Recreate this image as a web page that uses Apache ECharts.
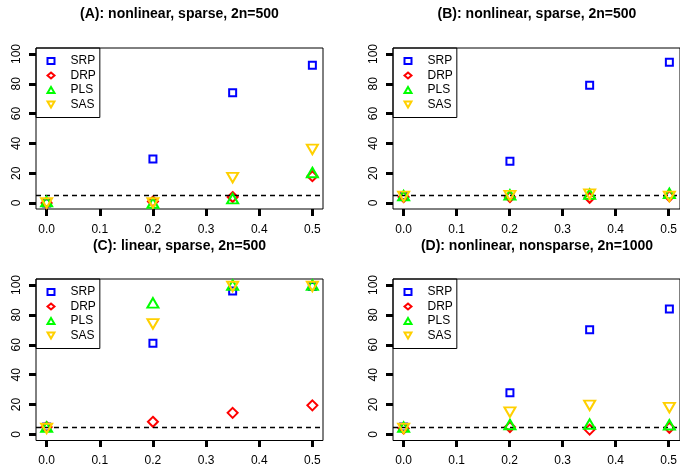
<!DOCTYPE html>
<html>
<head>
<meta charset="utf-8">
<script src="https://cdn.jsdelivr.net/npm/echarts@6/dist/echarts.min.js"></script>
<style>
html,body{margin:0;padding:0;background:#fff;}
#chart{width:680px;height:467px;}
</style>
</head>
<body>
<div id="chart"></div>
<script>
// ---- data ----
const xValues = [0, 0.2, 0.35, 0.5];
const xTickMin = 0, xTickMax = 0.5, xTickStep = 0.1;
const yTickMin = 0, yTickMax = 100, yTickStep = 20;
const methods = ['SRP', 'DRP', 'PLS', 'SAS'];
const panelTitles = [
  '(A): nonlinear, sparse, 2n=500',
  '(B): nonlinear, sparse, 2n=500',
  '(C): linear, sparse, 2n=500',
  '(D): nonlinear, nonsparse, 2n=1000'
];
const refLevel = 5;

const panelA_SRP = [0, 29.5, 74, 92.5];
const panelA_DRP = [0, 1, 4, 18];
const panelA_PLS = [1, 0, 3, 20.5];
const panelA_SAS = [0, 0, 17, 36];

const panelB_SRP = [5, 28, 79, 94.5];
const panelB_DRP = [4, 4, 3.5, 4.5];
const panelB_PLS = [5, 5.5, 6, 6.5];
const panelB_SAS = [4.5, 5, 6, 4.5];

const panelC_SRP = [5, 61, 96, 99];
const panelC_DRP = [5, 8.5, 14.5, 19.5];
const panelC_PLS = [5, 88, 100, 100];
const panelC_SAS = [4, 74, 99, 99];

const panelD_SRP = [5, 28, 70, 84];
const panelD_DRP = [4, 5, 3.3, 4.5];
const panelD_PLS = [5, 6.7, 7, 6.5];
const panelD_SAS = [4, 15, 19.5, 18];

const panels = [
  [panelA_SRP, panelA_DRP, panelA_PLS, panelA_SAS],
  [panelB_SRP, panelB_DRP, panelB_PLS, panelB_SAS],
  [panelC_SRP, panelC_DRP, panelC_PLS, panelC_SAS],
  [panelD_SRP, panelD_DRP, panelD_PLS, panelD_SAS]
];

// ---- styles ----
const FONT = 'Liberation Sans, Arial, Helvetica, sans-serif';
const styles = {
  SRP: {symbol: 'rect', size: 7, color: '#0000FF'},
  DRP: {symbol: 'diamond', size: 10, color: '#FF0000'},
  PLS: {symbol: 'triangle', size: [11, 9.5], color: '#00FF00'},
  SAS: {symbol: 'path://M0,0L10,0L5,8.66Z', size: [11, 9.5], color: '#FFD000'}
};
// R-style 4% padding around the data range
const xPad = 0.04 * (xTickMax - xTickMin);
const yPad = 0.04 * (yTickMax - yTickMin);
const xMin = xTickMin - xPad, xMax = xTickMax + xPad;
const yMin = yTickMin - yPad, yMax = yTickMax + yPad;

const boxes = [
  {left: 36, top: 48, width: 287, height: 161},
  {left: 393, top: 48, width: 288, height: 161},
  {left: 36, top: 279, width: 287, height: 161.5},
  {left: 393, top: 279, width: 288, height: 161.5}
];
const titleCenters = [[179.5, 7], [537, 7], [179.5, 239], [537, 239]];

const tickStyle = () => ({show: true, inside: false, length: 7, lineStyle: {color: '#000000', width: 3}});
const hiddenLine = () => ({show: true, onZero: false, lineStyle: {color: 'rgba(0,0,0,0)'}});

const grids = [], xAxes = [], yAxes = [];
boxes.forEach((b, p) => {
  // data grid (the box)
  grids.push(Object.assign({show: true, borderColor: '#000', borderWidth: 1, backgroundColor: 'transparent'}, b));
  xAxes.push({type: 'value', gridIndex: 3 * p, min: xMin, max: xMax, show: false});
  yAxes.push({type: 'value', gridIndex: 3 * p, min: yMin, max: yMax, show: false});
  // x tick axis spanning exactly the tick range
  const xs = b.width / (xMax - xMin);
  grids.push({show: false, left: b.left + (xTickMin - xMin) * xs, width: (xTickMax - xTickMin) * xs, top: b.top, height: b.height});
  xAxes.push({
    type: 'value', gridIndex: 3 * p + 1, min: xTickMin, max: xTickMax, interval: xTickStep,
    position: 'bottom', splitLine: {show: false}, axisLine: hiddenLine(), axisTick: tickStyle(),
    axisLabel: {show: true, margin: 15, fontSize: 12, color: '#000', fontFamily: FONT,
      formatter: v => v.toFixed(1), showMinLabel: true, showMaxLabel: true, hideOverlap: false}
  });
  yAxes.push({type: 'value', gridIndex: 3 * p + 1, min: 0, max: 1, show: false});
  // y tick axis spanning exactly the tick range
  const ys = b.height / (yMax - yMin);
  grids.push({show: false, left: b.left, width: b.width, top: b.top + (yMax - yTickMax) * ys, height: (yTickMax - yTickMin) * ys});
  xAxes.push({type: 'value', gridIndex: 3 * p + 2, min: 0, max: 1, show: false});
  yAxes.push({
    type: 'value', gridIndex: 3 * p + 2, min: yTickMin, max: yTickMax, interval: yTickStep,
    position: 'left', splitLine: {show: false}, axisLine: hiddenLine(), axisTick: tickStyle(),
    axisLabel: {show: true, rotate: 90, margin: 13, fontSize: 12, color: '#000', fontFamily: FONT,
      formatter: v => String(v), showMinLabel: true, showMaxLabel: true, hideOverlap: false}
  });
});

const option = {
  animation: false,
  backgroundColor: '#fff',
  textStyle: {fontFamily: FONT},
  title: panelTitles.map((t, i) => ({
    text: t, left: titleCenters[i][0], top: titleCenters[i][1], textAlign: 'center', padding: 0,
    textStyle: {fontFamily: FONT, fontWeight: 'bold', fontSize: 14, color: '#000'}
  })),
  grid: grids,
  legend: boxes.map(b => ({
    left: b.left, top: b.top, orient: 'vertical', data: methods,
    itemWidth: 7, itemHeight: 6, itemGap: 2.5,
    padding: [7, 4, 7, 10.5],
    borderColor: '#000', borderWidth: 1, borderRadius: 0,
    backgroundColor: 'transparent',
    selectedMode: false,
    textStyle: {fontFamily: FONT, fontSize: 12, color: '#000', padding: [0, 0, 0, 11]}
  })),
  xAxis: xAxes,
  yAxis: yAxes,
  series: []
};

panels.forEach((vals, p) => {
  methods.forEach((m, k) => {
    const s = styles[m];
    const ser = {
      type: 'scatter', name: m, xAxisIndex: 3 * p, yAxisIndex: 3 * p,
      symbol: s.symbol, symbolSize: s.size,
      itemStyle: {color: 'rgba(255,255,255,0)', borderColor: s.color, borderWidth: 2, opacity: 1},
      emphasis: {disabled: true},
      data: xValues.map((x, j) => [x, vals[k][j]]),
      z: 3 + k
    };
    if (k === 0) {
      ser.markLine = {
        silent: true, symbol: 'none', label: {show: false},
        lineStyle: {color: '#000', type: [5, 4], width: 1.3},
        data: [{yAxis: refLevel}]
      };
    }
    option.series.push(ser);
  });
});

const chart = echarts.init(document.getElementById('chart'), null, {renderer: 'canvas'});
chart.setOption(option);
</script>
</body>
</html>
